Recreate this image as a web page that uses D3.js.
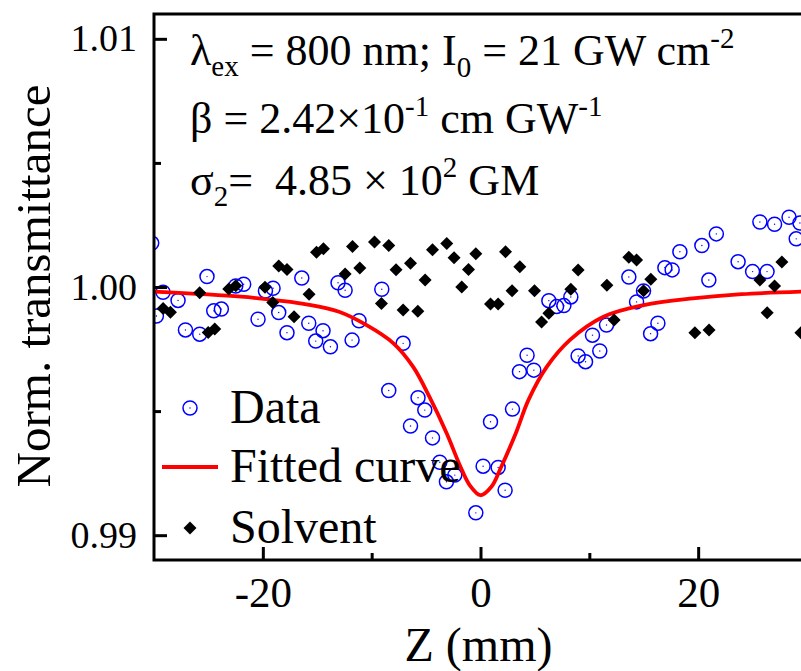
<!DOCTYPE html>
<html>
<head>
<meta charset="utf-8">
<script src="https://cdn.jsdelivr.net/npm/d3@7/dist/d3.min.js"></script>
<style>
  html, body { margin: 0; padding: 0; background: #fff; overflow: hidden; }
  svg { display: block; }
  text { font-family: "Liberation Serif", "Times New Roman", "DejaVu Serif", serif; fill: #000; }
</style>
</head>
<body>
<svg id="chart" width="801" height="671"></svg>
<script>
// ---- Data ----
const dataZ = [-30.21, -29.78, -29.17, -27.79, -27.11, -25.80, -25.13, -24.51, -23.81, -22.49,
  -21.76, -20.44, -19.76, -19.06, -18.54, -17.78, -16.42, -15.78, -15.14, -14.47,
  -13.79, -13.09, -12.44, -11.80, -11.16, -9.07, -8.43, -7.11, -6.43, -5.74,
  -5.12, -4.41, -3.74, -3.13, -2.36, -0.43, 0.24, 0.92, 1.62, 2.26,
  2.94, 3.58, 4.28, 4.90, 6.28, 6.99, 7.66, 8.30, 8.97, 9.65,
  10.29, 10.96, 11.58, 13.63, 14.34, 14.98, 15.63, 16.30, 16.94, 17.61,
  18.32, 20.34, 20.98, 21.67, 23.67, 25.00, 25.67, 26.33, 27.02, 28.35,
  29.01, 29.35];
const dataT = [1.00177, 0.99883, 0.99979, 0.99946, 0.99827, 0.99810, 1.00042, 0.99904, 0.99911, 1.00004,
  1.00011, 0.99870, 0.99984, 0.99995, 0.99897, 0.99816, 1.00036, 0.99854, 0.99782, 0.99824,
  0.99759, 1.00017, 0.99987, 0.99786, 0.99864, 0.99991, 0.99583, 0.99773, 0.99440, 0.99554,
  0.99504, 0.99392, 0.99294, 0.99215, 0.99242, 0.99090, 0.99278, 0.99457, 0.99273, 0.99181,
  0.99508, 0.99659, 0.99725, 0.99665, 0.99945, 0.99921, 0.99925, 0.99960, 0.99722, 0.99699,
  0.99806, 0.99742, 0.99847, 1.00040, 0.99940, 0.99984, 0.99812, 0.99854, 1.00078, 1.00069,
  1.00142, 1.00167, 1.00028, 1.00214, 1.00102, 1.00062, 1.00262, 1.00062, 1.00253, 1.00281,
  1.00194, 1.00258];

const solventZ = [-29.16, -28.49, -25.80, -25.02, -24.42, -23.13, -22.49, -19.80, -19.09, -18.54,
  -17.78, -17.13, -15.75, -15.07, -14.43, -12.44, -11.76, -11.09, -9.74, -9.10,
  -8.43, -7.76, -7.11, -6.43, -5.76, -5.09, -4.41, -3.10, -2.43, -1.72,
  -1.10, -0.43, 0.92, 1.62, 2.30, 2.90, 3.61, 4.96, 5.61, 6.28,
  8.30, 8.97, 11.61, 12.28, 13.63, 14.34, 14.98, 15.65, 19.70, 21.00,
  25.67, 26.34, 27.02, 27.69, 29.44];
const solventT = [0.99913, 0.99898, 0.99977, 0.99817, 0.99831, 0.99992, 1.00005, 0.99999, 0.99938, 1.00085,
  1.00071, 0.99880, 0.99971, 1.00140, 1.00154, 1.00052, 1.00163, 1.00077, 1.00181, 0.99934,
  1.00167, 1.00070, 0.99907, 1.00096, 0.99902, 1.00028, 1.00150, 1.00175, 1.00118, 1.00000,
  1.00071, 1.00134, 0.99931, 0.99931, 1.00142, 0.99985, 1.00082, 0.99985, 0.99859, 0.99894,
  0.99991, 1.00069, 1.00007, 0.99867, 1.00120, 1.00109, 0.99985, 1.00031, 0.99816, 0.99827,
  1.00028, 0.99896, 1.00004, 1.00101, 0.99816];

const fitZ = [-30, -22, -18.5, -16, -13, -10.5, -8, -6.2, -4.7, -3.1, -1.9, -1, 0,
  1, 1.9, 3.3, 4.4, 6.1, 8.2, 11.3, 15, 19.5, 24, 30];
const fitT = [0.99981, 0.99961, 0.99945, 0.99930, 0.99900, 0.99847, 0.99773, 0.99679, 0.99558,
  0.99410, 0.99282, 0.99202, 0.99161, 0.99195, 0.99275, 0.99417, 0.99544, 0.99679, 0.99786,
  0.99880, 0.99927, 0.99954, 0.99971, 0.99982];

const xMajorTicks = [-20, 0, 20];
const xMinorTicks = [-10, 10];
const yMajorTicks = [0.99, 1.00, 1.01];
const yMinorTicks = [0.995, 1.005];
const xTickLabels = ["-20", "0", "20"];
const yTickLabels = ["0.99", "1.00", "1.01"];
const legendLabels = ["Data", "Fitted curve", "Solvent"];

// ---- Layout ----
const svg = d3.select("#chart");
const L = 154, R = 807, T = 14, B = 560;
const x = d3.scaleLinear().domain([-30, 30]).range([L, R]);
const y = d3.scaleLinear().domain([0.989, 1.011]).range([B, T]);

svg.append("defs").append("clipPath").attr("id", "plotclip")
  .append("rect").attr("x", L).attr("y", T).attr("width", R - L).attr("height", B - T);

const plot = svg.append("g").attr("clip-path", "url(#plotclip)");

// Data circles
const dataPts = dataZ.map((z, i) => [z, dataT[i]]);
const cg = plot.append("g");
cg.selectAll("circle.d").data(dataPts).enter().append("circle")
  .attr("class", "d")
  .attr("cx", d => x(d[0])).attr("cy", d => y(d[1])).attr("r", 7)
  .attr("fill", "none").attr("stroke", "#0000ff").attr("stroke-width", 1.5);
cg.selectAll("circle.c").data(dataPts).enter().append("circle")
  .attr("class", "c")
  .attr("cx", d => x(d[0])).attr("cy", d => y(d[1])).attr("r", 0.7)
  .attr("fill", "#0000ff");

// Fitted curve
const fitPts = fitZ.map((z, i) => [z, fitT[i]]);
plot.append("path").datum(fitPts)
  .attr("fill", "none").attr("stroke", "#ff0000").attr("stroke-width", 3.8)
  .attr("d", d3.line().x(d => x(d[0])).y(d => y(d[1])).curve(d3.curveCatmullRom.alpha(0.5)));

// Solvent diamonds
const diamond = "M0,-6.5L6.5,0L0,6.5L-6.5,0Z";
const solPts = solventZ.map((z, i) => [z, solventT[i]]);
plot.append("g").selectAll("path").data(solPts).enter().append("path")
  .attr("d", diamond)
  .attr("transform", d => `translate(${x(d[0])},${y(d[1])})`)
  .attr("fill", "#000");

// ---- Axes ----
const xAxis = svg.append("g").attr("transform", `translate(0,${B})`)
  .call(d3.axisBottom(x).tickValues(xMajorTicks).tickSize(-13).tickPadding(16)
    .tickFormat((d, i) => xTickLabels[i]));
const xAxisMinor = svg.append("g").attr("transform", `translate(0,${B})`)
  .call(d3.axisBottom(x).tickValues(xMinorTicks).tickSize(-7).tickFormat(""));
const yAxis = svg.append("g").attr("transform", `translate(${L},0)`)
  .call(d3.axisLeft(y).tickValues(yMajorTicks).tickSize(-13).tickPadding(17)
    .tickFormat((d, i) => yTickLabels[i]));
const yAxisMinor = svg.append("g").attr("transform", `translate(${L},0)`)
  .call(d3.axisLeft(y).tickValues(yMinorTicks).tickSize(-7).tickFormat(""));

[xAxis, xAxisMinor, yAxis, yAxisMinor].forEach(g => {
  g.select(".domain").remove();
  g.selectAll(".tick line").attr("stroke", "#000").attr("stroke-width", 3);
});
xAxis.selectAll(".tick text").attr("font-size", 43).attr("font-family", "Liberation Serif");
yAxis.selectAll(".tick text").attr("font-size", 38).attr("font-family", "Liberation Serif");

// Frame
svg.append("rect").attr("x", L).attr("y", T).attr("width", R - L).attr("height", B - T)
  .attr("fill", "none").attr("stroke", "#000").attr("stroke-width", 3);

// Axis titles
svg.append("text").attr("x", (x(-30) + x(30)) / 2 - 2).attr("y", 661)
  .attr("text-anchor", "middle").attr("font-size", 48).text("Z (mm)");
svg.append("text").attr("transform", "translate(50,286) rotate(-90)")
  .attr("text-anchor", "middle").attr("font-size", 49).text("Norm. transmittance");

// ---- Annotations ----
const ann = svg.append("g").attr("font-size", 44);
const sub = 29;
// line 1
const t1 = ann.append("text").attr("x", 190).attr("y", 65).attr("xml:space", "preserve");
t1.append("tspan").text("λ");
t1.append("tspan").attr("font-size", sub).attr("dy", 11).text("ex");
t1.append("tspan").attr("dy", -11).text(" = 800 nm; I");
t1.append("tspan").attr("font-size", sub).attr("dy", 12).text("0");
t1.append("tspan").attr("dy", -12).text(" = 21 GW cm");
t1.append("tspan").attr("font-size", sub).attr("dy", -17).text("-2");
// line 2
const t2 = ann.append("text").attr("x", 190).attr("y", 133).attr("xml:space", "preserve");
t2.append("tspan").text("β = 2.42×10");
t2.append("tspan").attr("font-size", sub).attr("dy", -17).text("-1");
t2.append("tspan").attr("dy", 17).text(" cm GW");
t2.append("tspan").attr("font-size", sub).attr("dy", -17).text("-1");
// line 3
const t3 = ann.append("text").attr("x", 190).attr("y", 195).attr("xml:space", "preserve")
  .style("white-space", "pre");
t3.append("tspan").text("σ");
t3.append("tspan").attr("font-size", sub).attr("dy", 11).text("2");
t3.append("tspan").attr("dy", -11).text("=  4.85 × 10");
t3.append("tspan").attr("font-size", sub).attr("dy", -18).text("2");
t3.append("tspan").attr("dy", 18).text(" GM");

// ---- Legend ----
const lg = svg.append("g");
const legY = [408, 467, 528];
lg.append("circle").attr("cx", 190).attr("cy", legY[0]).attr("r", 7)
  .attr("fill", "none").attr("stroke", "#0000ff").attr("stroke-width", 1.5);
lg.append("circle").attr("cx", 190).attr("cy", legY[0]).attr("r", 0.7).attr("fill", "#0000ff");
lg.append("line").attr("x1", 162).attr("x2", 218).attr("y1", legY[1]).attr("y2", legY[1])
  .attr("stroke", "#ff0000").attr("stroke-width", 3.8);
lg.append("path").attr("d", diamond).attr("transform", `translate(190,${legY[2]})`).attr("fill", "#000");
lg.selectAll("text").data(legendLabels).enter().append("text")
  .attr("x", 230).attr("y", (d, i) => legY[i] + 15).attr("font-size", 48).text(d => d);
</script>
</body>
</html>
